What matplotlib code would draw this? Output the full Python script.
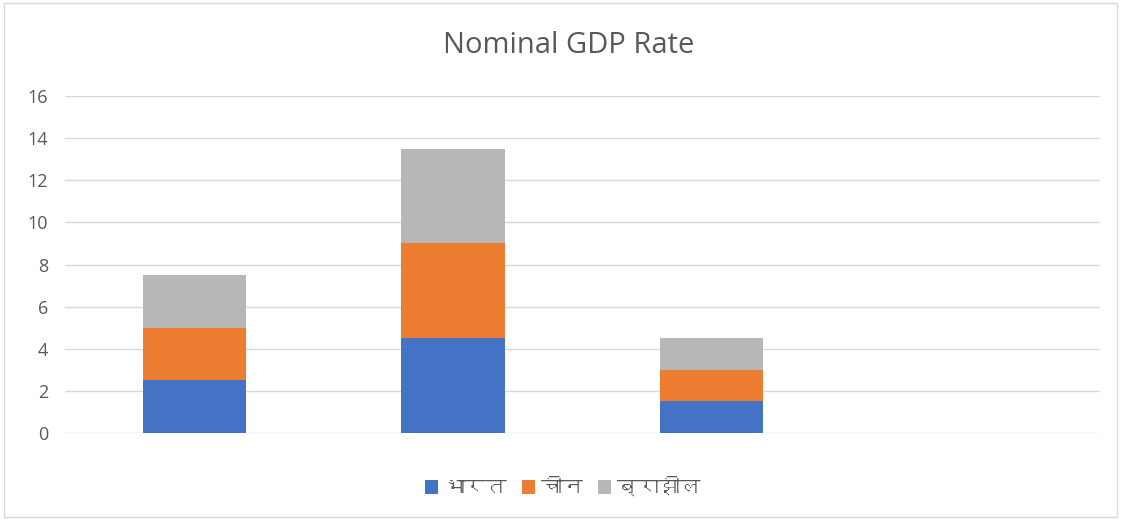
import matplotlib

matplotlib.use("Agg")
import matplotlib.pyplot as plt
import numpy as np
from matplotlib import font_manager
from matplotlib.ft2font import FT2Font
from matplotlib.patches import Rectangle

# chart data
categories = ["1", "2", "3", "4"]
series_names = ["भारत", "चीन", "ब्राझील"]
india = [2.5, 4.5, 1.5, 0]
china = [2.5, 4.5, 1.5, 0]
brazil = [2.5, 4.5, 1.5, 0]
colors = ["#4472C4", "#ED7D31", "#B7B7B7"]
yticks = [0, 2, 4, 6, 8, 10, 12, 14, 16]


def find_devanagari_family():
    """Pick any installed font that has Devanagari glyphs."""
    for f in font_manager.fontManager.ttflist:
        try:
            ft = FT2Font(f.fname)
            if 0x092D in ft.get_charmap():
                return f.name
        except Exception:
            continue
    return None


base = "Open Sans"
deva = find_devanagari_family()
legend_family = [deva, "DejaVu Sans"] if deva else ["DejaVu Sans"]

fig = plt.figure(figsize=(11.21, 5.19), dpi=100)
ax = fig.add_axes([0.058, 0.1657, 0.923, 0.6493])

x = np.arange(len(categories))
bottom = np.zeros(len(categories))
for name, vals, c in zip(series_names, [india, china, brazil], colors):
    ax.bar(x, vals, width=0.4, bottom=bottom, color=c, label=name, zorder=3)
    bottom += np.array(vals)

ax.set_xlim(-0.5, len(categories) - 0.5)
ax.set_ylim(0, 16)
ax.set_yticks(yticks)
ax.set_xticks([])
ax.grid(axis="y", color="#D9D9D9", linewidth=1, zorder=0)
for s in ax.spines.values():
    s.set_visible(False)
ax.tick_params(axis="y", length=0, pad=12, labelcolor="#595959", labelsize=13)
for t in ax.get_yticklabels():
    t.set_family(base)

fig.text(0.507, 0.912, "Nominal GDP Rate", ha="center", va="center",
         fontsize=21, color="#595959", family=base)

handles, labels = ax.get_legend_handles_labels()
leg = fig.legend(handles, labels, loc="center", bbox_to_anchor=(0.502, 0.062),
                 ncol=3, frameon=False, handlelength=0.65, handleheight=0.65,
                 handletextpad=0.3, columnspacing=0.7,
                 prop={"family": legend_family, "size": 15})
for t in leg.get_texts():
    t.set_color("#595959")

fig.patches.append(Rectangle((0.004, 0.004), 0.992, 0.99, transform=fig.transFigure,
                             fill=False, edgecolor="#D9D9D9", linewidth=1))

fig.savefig("out.png", dpi=100)
